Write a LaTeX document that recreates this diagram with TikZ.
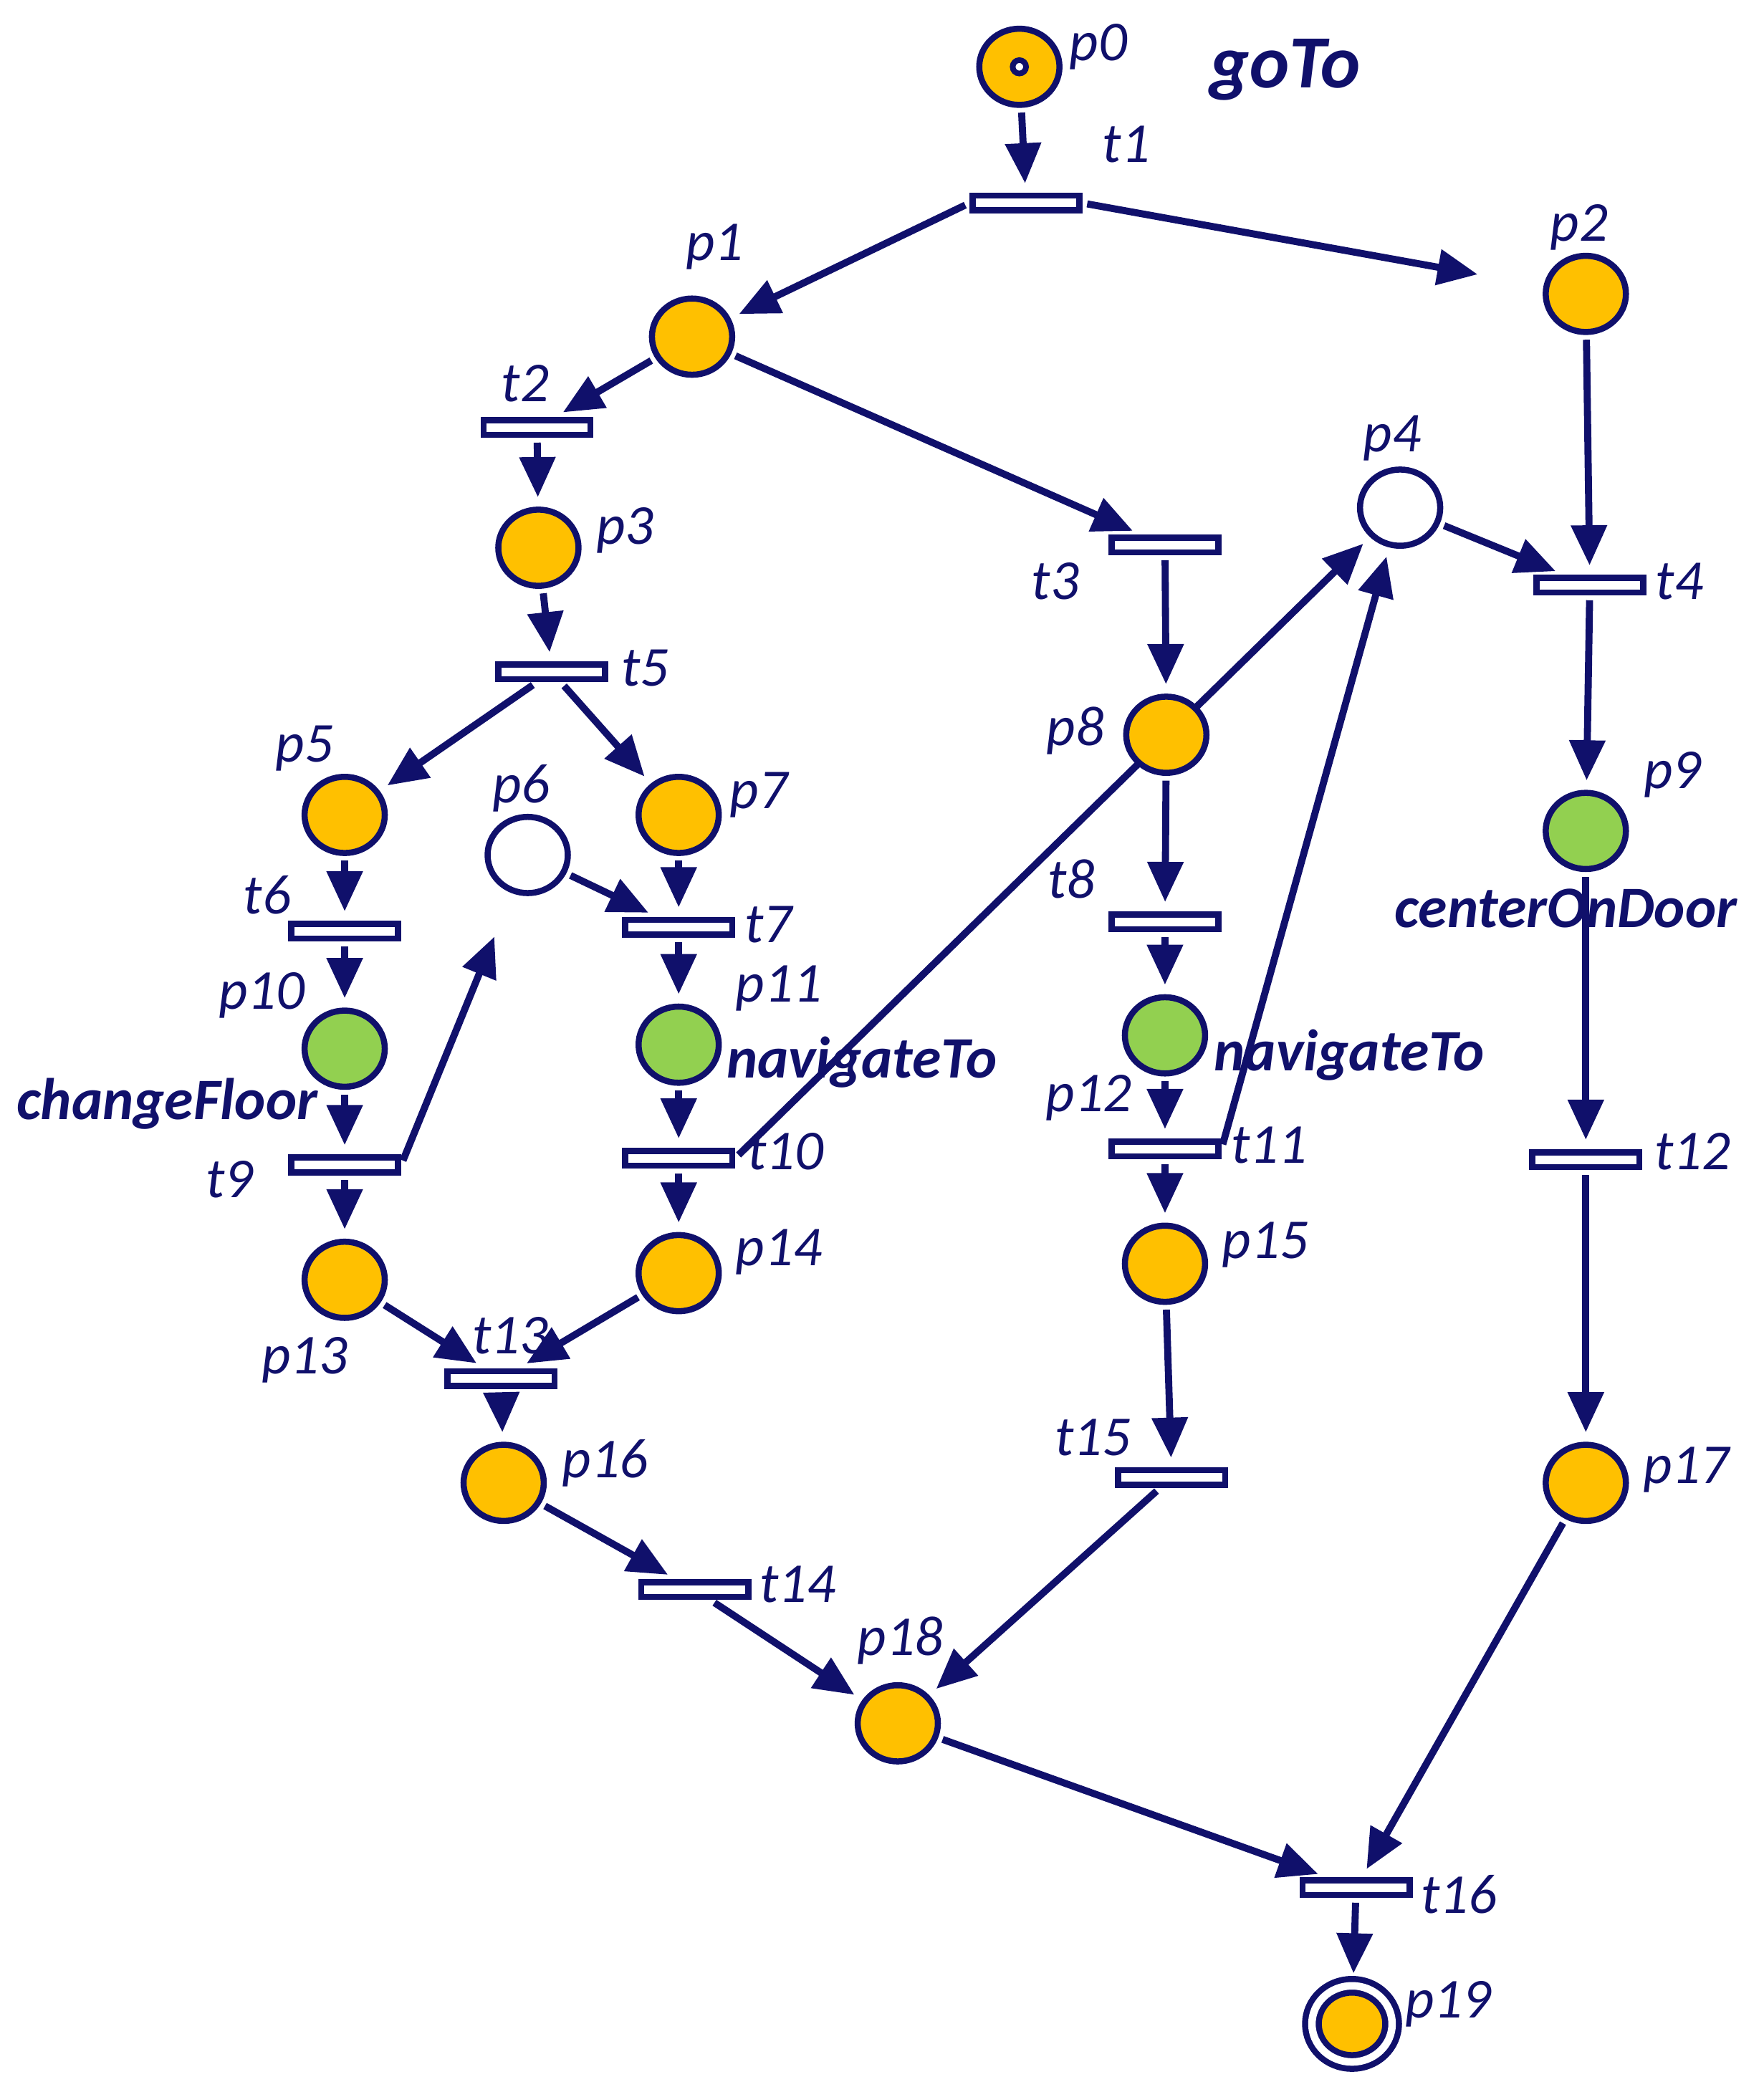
\documentclass[tikz,border=0pt]{standalone}
\usepackage{fontspec}
\setmainfont{Carlito}
\usetikzlibrary{arrows.meta,shapes.geometric}
\definecolor{netblue}{RGB}{16,16,107}
\definecolor{tokenorange}{RGB}{255,192,0}
\definecolor{actgreen}{RGB}{146,208,80}

\begin{document}
\begin{tikzpicture}[
    x=0.01cm, y=-0.01cm,
    place/.style={ellipse, draw=netblue, line width=1.3pt, fill=tokenorange, minimum width=0.6cm, minimum height=0.57cm, inner sep=0pt},
    act/.style={place, fill=actgreen},
    idle/.style={place, fill=white},
    trans/.style={rectangle, draw=netblue, line width=1.3pt, fill=white, minimum width=0.8cm, minimum height=0.11cm, inner sep=0pt},
    arc/.style={-{Triangle[length=0.3cm,width=0.26cm]}, line width=1.5pt, draw=netblue, shorten >=2pt, shorten <=1pt},
    lbl/.style={text=netblue, font=\fontsize{12}{14}\selectfont\itshape, inner sep=0pt},
    task/.style={text=netblue, font=\fontsize{12.5}{15}\selectfont\bfseries\itshape, inner sep=0pt}
]
\useasboundingbox (0,0) rectangle (1320,1566);

% places
\node[place] (p0) at (763,50) {};
\node[circle, draw=netblue, line width=1.2pt, fill=white, minimum size=0.1cm, inner sep=0pt] (tok) at (763,50) {};
\node[place] (p1) at (518,252) {};
\node[place] (p2) at (1187,220) {};
\node[place] (p3) at (403,410) {};
\node[idle] (p4) at (1048,380) {};
\node[place] (p5) at (258,610) {};
\node[idle] (p6) at (395,640) {};
\node[place] (p7) at (508,610) {};
\node[act] (p9) at (1187,622) {};
\node[act] (p10) at (258,785) {};
\node[act] (p11) at (508,782) {};
\node[act] (p12) at (872,775) {};
\node[place] (p13) at (258,958) {};
\node[place] (p14) at (508,953) {};
\node[place] (p15) at (872,946) {};
\node[place] (p16) at (377,1110) {};
\node[place] (p17) at (1187,1110) {};
\node[place] (p18) at (672,1290) {};
\node[place, double, double distance=1.6pt] (p19) at (1012,1515) {};

% transitions
\node[trans] (t1) at (768,152) {};
\node[trans] (t2) at (402,320) {};
\node[trans] (t3) at (872,408) {};
\node[trans] (t4) at (1190,438) {};
\node[trans] (t5) at (413,503) {};
\node[trans] (t6) at (258,697) {};
\node[trans] (t7) at (508,694) {};
\node[trans] (t8) at (872,690) {};
\node[trans] (t9) at (258,872) {};
\node[trans] (t10) at (508,867) {};
\node[trans] (t11) at (872,860) {};
\node[trans] (t12) at (1187,868) {};
\node[trans] (t13) at (375,1032) {};
\node[trans] (t14) at (520,1190) {};
\node[trans] (t15) at (877,1106) {};
\node[trans] (t16) at (1015,1413) {};

% arc passing under p8
\draw[arc] (t10.east) -- (p4);
\node[place] (p8) at (873,550) {};

% arcs
\draw[arc] (p0) -- (t1);
\draw[arc] (t1.west) -- (p1);
\draw[arc, shorten >=0.5cm] (t1.east) -- (p2);
\draw[arc] (p1) -- (t2);
\draw[arc] (p1) -- (t3);
\draw[arc] (t2) -- (p3);
\draw[arc] (p3) -- (t5);
\draw[arc] (t5) -- (p5);
\draw[arc] (t5) -- (p7);
\draw[arc] (p5) -- (t6);
\draw[arc] (t6) -- (p10);
\draw[arc] (p10) -- (t9);
\draw[arc] (t9) -- (p13);
\draw[arc, shorten >=0.35cm] (t9.east) -- (p6);
\draw[arc] (p6) -- (t7);
\draw[arc] (p7) -- (t7);
\draw[arc] (t7) -- (p11);
\draw[arc] (p11) -- (t10);
\draw[arc] (t10) -- (p14);
\draw[arc] (t3) -- (p8);
\draw[arc] (p8) -- (t8);
\draw[arc] (t8) -- (p12);
\draw[arc] (p12) -- (t11);
\draw[arc] (t11) -- (p15);
\draw[arc] (t11.east) -- (p4);
\draw[arc] (p4) -- (t4);
\draw[arc] (p2) -- (t4);
\draw[arc] (t4) -- (p9);
\draw[arc] (p9) -- (t12);
\draw[arc] (t12) -- (p17);
\draw[arc] (p13) -- (t13);
\draw[arc] (p14) -- (t13);
\draw[arc] (t13) -- (p16);
\draw[arc] (p16) -- (t14);
\draw[arc] (t14) -- (p18);
\draw[arc] (p15) -- (t15);
\draw[arc] (t15) -- (p18);
\draw[arc] (p18) -- (t16);
\draw[arc] (p17) -- (t16);
\draw[arc] (t16) -- (p19);

% labels
\node[lbl] (lp0) at (822,35) {p0};
\node[task, font=\fontsize{16}{19}\selectfont\bfseries\itshape] (lgoTo) at (962,52) {goTo};
\node[lbl] (lt1) at (843,108) {t1};
\node[lbl] (lp1) at (535,185) {p1};
\node[lbl] (lp2) at (1182,170) {p2};
\node[lbl] (lt2) at (393,287) {t2};
\node[lbl] (lp3) at (468,397) {p3};
\node[lbl] (lt3) at (790,435) {t3};
\node[lbl] (lp4) at (1042,328) {p4};
\node[lbl] (lt4) at (1257,435) {t4};
\node[lbl] (lt5) at (483,500) {t5};
\node[lbl] (lp8) at (805,547) {p8};
\node[lbl] (lp5) at (228,560) {p5};
\node[lbl] (lp6) at (390,590) {p6};
\node[lbl] (lp7) at (568,595) {p7};
\node[lbl] (lp9) at (1252,580) {p9};
\node[task] (lcenter) at (1172,680) {centerOnDoor};
\node[lbl] (lt6) at (200,670) {t6};
\node[lbl] (lt7) at (575,692) {t7};
\node[lbl] (lt8) at (802,658) {t8};
\node[lbl] (lp10) at (196,745) {p10};
\node[lbl] (lp11) at (583,740) {p11};
\node[task] (lnav1) at (645,795) {navigateTo};
\node[task] (lnav2) at (1010,790) {navigateTo};
\node[lbl] (lp12) at (815,822) {p12};
\node[task] (lchange) at (125,826) {changeFloor};
\node[lbl] (lt9) at (172,883) {t9};
\node[lbl] (lt10) at (588,862) {t10};
\node[lbl] (lt11) at (950,857) {t11};
\node[lbl] (lt12) at (1267,862) {t12};
\node[lbl] (lp13) at (228,1018) {p13};
\node[lbl] (lp14) at (583,937) {p14};
\node[lbl] (lp15) at (947,932) {p15};
\node[lbl] (lt13) at (382,1000) {t13};
\node[lbl] (lp16) at (453,1095) {p16};
\node[lbl] (lt15) at (818,1076) {t15};
\node[lbl] (lp17) at (1262,1100) {p17};
\node[lbl] (lt14) at (597,1186) {t14};
\node[lbl] (lp18) at (674,1228) {p18};
\node[lbl] (lt16) at (1092,1418) {t16};
\node[lbl] (lp19) at (1084,1500) {p19};
\end{tikzpicture}
\end{document}
